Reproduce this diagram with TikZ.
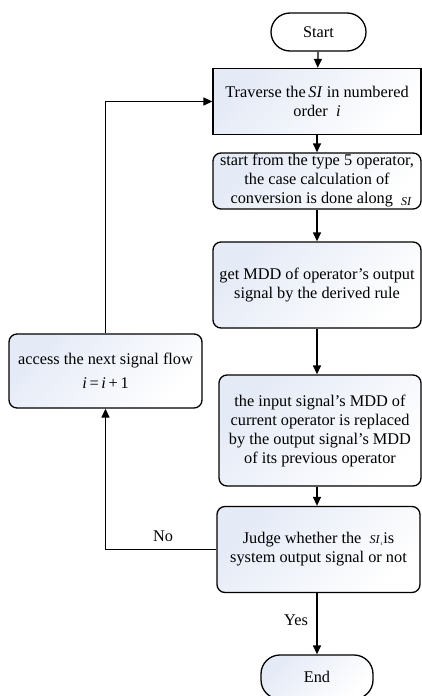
\documentclass[tikz,border=0pt]{standalone}
\usepackage{fontspec}
\setmainfont{Liberation Serif}
\usetikzlibrary{arrows.meta}
\definecolor{gbfill}{RGB}{228,234,246}
\tikzset{
  every node/.style={font=\fontsize{16.3}{19}\selectfont},
  proc/.style={draw=black, line width=1.3pt, align=center, inner sep=0pt,
    top color=gbfill, bottom color=white, shading angle=45},
  rproc/.style={proc, rounded corners=8pt},
  term/.style={draw=black, line width=1.3pt, align=center, inner sep=0pt,
    rounded corners=19pt},
  conn/.style={line width=1.3pt, -{Triangle[length=9pt,width=8pt]}},
}
\newcommand{\sig}{\textit{SI}}
\begin{document}
\begin{tikzpicture}[x=1pt,y=-1pt]
\useasboundingbox (0,0) rectangle (422,696);

% terminals
\node[term, fill=white, minimum width=95pt, minimum height=38pt] (start) at (318.5,32) {Start};
\node[term, top color=gbfill, bottom color=white, shading angle=45,
      minimum width=112pt, minimum height=44pt] (end) at (317,677) {End};

% process boxes
\node[proc, minimum width=208pt, minimum height=66pt] (trav) at (317,101.5)
  {Traverse the\,\sig\ in numbered\\ order \ \textit{i}};
\node[rproc, minimum width=208pt, minimum height=56pt] (case) at (317,181)
  {start from the type 5 operator,\\ the case calculation of\\
   \ \ conversion is done along \ {\fontsize{12}{12}\selectfont\raisebox{-2pt}{\sig}}};
\node[rproc, minimum width=208pt, minimum height=86pt] (mdd) at (317,285)
  {get MDD of operator's output\\ signal by the derived rule};
\node[rproc, minimum width=202pt, minimum height=111pt] (repl) at (320,430.5)
  {the input signal's MDD of\\ current operator is replaced\\
   by the output signal's MDD\\ of its previous operator};
\node[rproc, minimum width=203pt, minimum height=86pt] (judge) at (318.5,549.5)
  {Judge whether the \ {\fontsize{12}{12}\selectfont\sig$_{\scriptscriptstyle i}$}is\\
   system output signal or not};
\node[rproc, minimum width=193pt, minimum height=74pt] (next) at (105.5,371)
  {access the next signal flow\\[5pt] \textit{i}\,=\,\textit{i}\,+\,1};

% main flow
\draw[conn] (start) -- (trav);
\draw[conn] (trav) -- (case);
\draw[conn] (case) -- (mdd);
\draw[conn] (mdd.south) -- (mdd.south |- repl.north);
\draw[conn] (repl.south -| mdd.south) -- (mdd.south |- judge.north);
\draw[conn] (judge.south -| mdd.south) -- (end.north);

% loop back
\draw[conn] (judge.west) -| (next.south);
\draw[conn] (next.north) |- (trav.west);

% branch labels
\node (no) at (163,536) {No};
\node (yes) at (296,620) {Yes};
\end{tikzpicture}
\end{document}
